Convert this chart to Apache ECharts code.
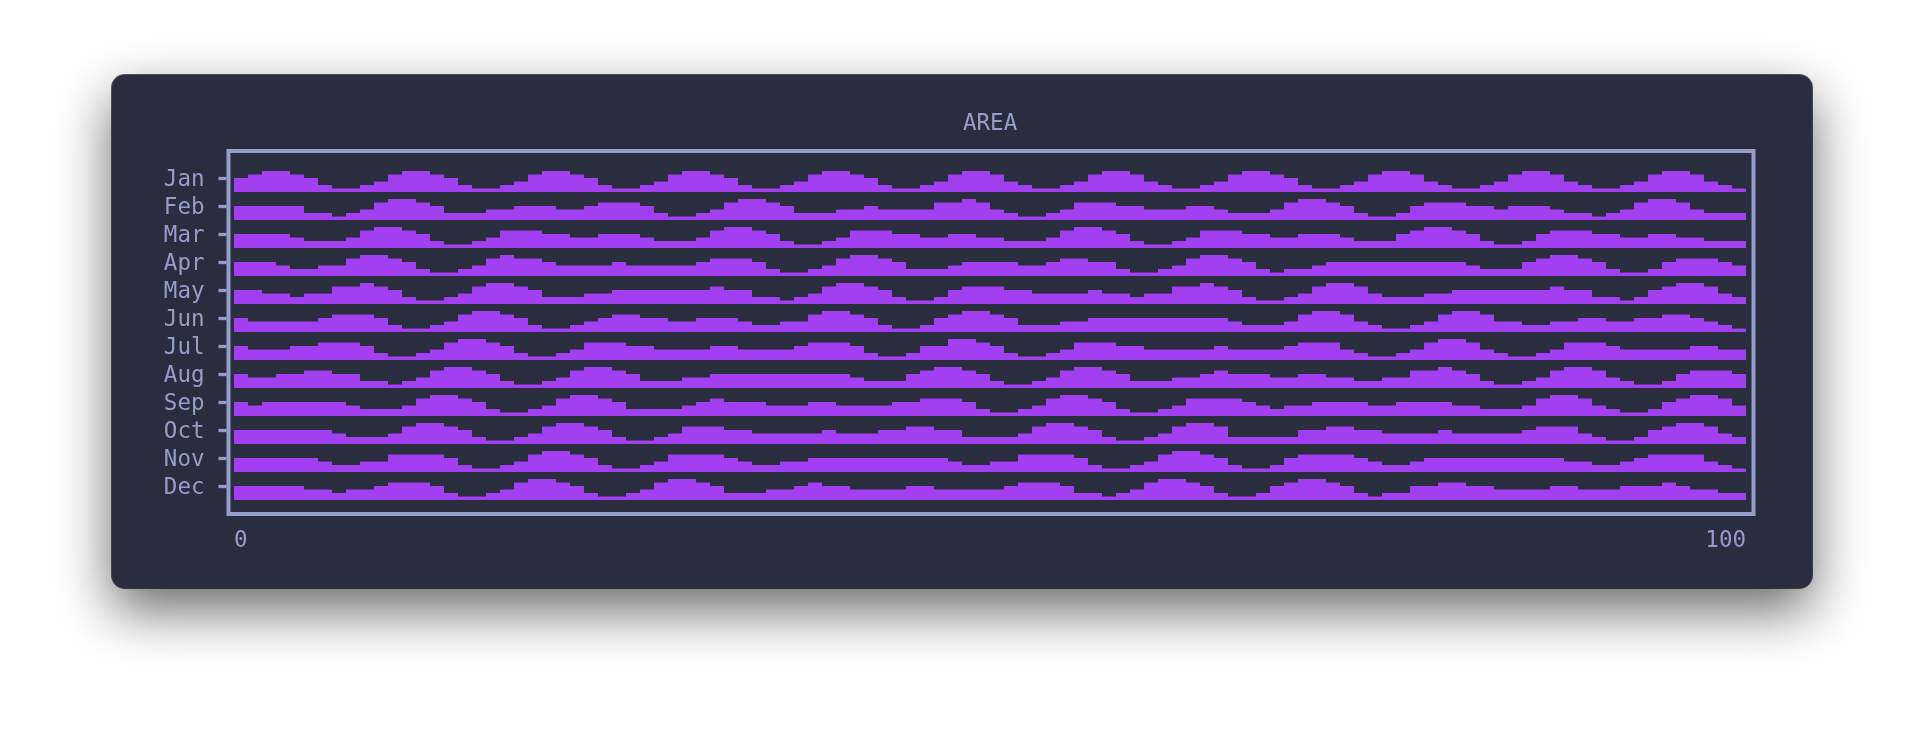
<!DOCTYPE html>
<html>
<head>
<meta charset="utf-8">
<script src="https://cdn.jsdelivr.net/npm/echarts@6/dist/echarts.min.js"></script>
<style>
  html, body { margin: 0; padding: 0; width: 1924px; height: 736px; background: #ffffff; overflow: hidden; }
  #win { position: absolute; left: 112px; top: 75px; width: 1700px; height: 513px; border-radius: 13px;
         background: #292d3e; box-shadow: 0 22px 55px rgba(0,0,0,0.6), 0 0 0 1px rgba(20,20,28,0.7); }
  #chart { position: absolute; left: 0; top: 0; width: 1924px; height: 736px; }
</style>
</head>
<body>
<div id="win"></div>
<div id="chart"></div>
<script>
// ---- data (levels per terminal column) ----
const title = 'AREA';
const months = ['Jan','Feb','Mar','Apr','May','Jun','Jul','Aug','Sep','Oct','Nov','Dec'];
const xTickLabels = [0, 100];
const jan = [4,5,6,6,5,4,2,1,1,2, 3,5,6,6,5,4,2,1,1,2, 3,5,6,6,5,4,2,1,1,2, 3,5,6,6,5,4,2,1,1,2, 3,5,6,6,5,4,2,1,1,2, 3,5,6,6,5,3,2,1,1,2, 3,5,6,6,5,3,2,1,1,2, 3,5,6,6,5,4,2,1,1,2, 3,5,6,6,5,3,2,1,1,2, 3,5,6,6,5,3,2,1,1,2, 3,5,6,6,5,3,2,1];
const feb = [4,4,4,4,4,2,2,1,2,3, 5,6,6,5,4,2,2,2,3,3, 4,4,4,3,3,4,5,5,5,4, 2,1,1,2,3,5,6,6,5,4, 2,2,2,3,3,4,3,3,3,3, 5,5,6,5,3,2,1,1,2,3, 5,5,5,4,4,3,3,3,4,4, 3,2,2,2,3,5,6,6,5,4, 2,1,1,2,4,5,5,5,4,4, 3,4,4,4,3,2,2,1,2,3, 5,6,6,5,3,2,2,2];
const mar = [4,4,4,4,3,2,2,2,3,5, 6,6,5,4,2,1,1,2,3,5, 5,5,4,4,3,3,4,4,4,3, 2,2,2,3,5,6,6,5,4,2, 1,1,2,3,5,5,5,4,4,3, 3,4,4,3,3,2,2,2,3,5, 6,6,5,4,2,1,1,2,3,5, 5,5,4,4,3,3,4,4,4,3, 2,2,2,4,5,6,6,5,4,2, 1,1,2,4,5,5,5,4,4,3, 3,4,4,3,3,2,2,2];
const apr = [4,4,4,3,2,2,3,3,5,6, 6,5,4,2,1,1,2,3,5,6, 5,5,4,3,3,3,3,4,3,3, 3,3,3,4,5,5,5,4,2,1, 1,2,3,5,6,6,5,4,2,2, 2,3,4,4,4,4,3,3,4,5, 5,4,4,2,1,1,2,3,5,6, 6,5,4,2,1,2,2,3,4,4, 4,4,4,4,4,4,4,4,3,2, 2,2,4,5,6,6,5,4,2,1, 1,2,4,5,5,5,4,3];
const may = [4,4,3,3,2,3,3,5,5,6, 5,4,2,1,1,2,3,5,6,6, 5,4,2,2,2,3,3,4,4,4, 4,4,4,4,5,4,4,2,2,1, 2,3,5,6,6,5,4,2,1,1, 2,4,5,5,5,4,4,3,3,3, 3,4,3,3,2,3,3,5,5,6, 5,4,2,1,1,2,3,5,6,6, 5,3,2,2,2,3,3,4,4,4, 4,4,4,4,5,4,4,2,2,1, 2,4,5,6,6,5,3,2];
const jun = [4,3,3,3,3,3,4,5,5,5, 4,2,1,1,2,3,5,6,6,5, 4,2,1,1,2,3,4,5,5,4, 4,3,3,4,4,4,3,2,2,3, 3,5,6,6,5,4,2,1,1,2, 4,5,6,6,5,4,2,2,2,3, 3,4,4,4,4,4,4,4,4,4, 4,3,2,2,2,3,5,6,6,5, 3,2,1,1,2,3,5,6,6,5, 3,3,2,2,3,3,4,4,3,3, 4,4,5,5,4,3,2,1];
const jul = [4,3,3,3,4,4,5,5,5,4, 2,1,1,2,3,5,6,6,5,4, 2,1,1,2,3,5,5,5,4,4, 3,3,3,3,4,4,3,3,3,3, 4,5,5,5,4,2,1,1,2,4, 4,6,6,5,4,2,1,1,2,3, 5,5,5,4,4,3,3,3,3,3, 4,3,3,3,3,4,5,5,5,3, 2,1,1,2,3,5,6,6,5,3, 2,1,1,2,3,5,5,5,4,3, 3,3,3,3,4,4,3,3];
const aug = [4,3,3,4,4,5,5,4,4,2, 2,1,2,3,5,6,6,5,4,2, 1,1,2,3,5,6,6,5,4,2, 2,2,3,3,4,4,4,4,4,4, 4,4,4,4,3,2,2,2,4,5, 6,6,5,4,2,1,1,2,3,5, 6,6,5,4,2,2,2,3,3,4, 5,4,4,4,3,3,4,4,3,3, 2,2,3,3,5,5,6,5,4,2, 1,1,2,3,5,6,6,5,3,2, 1,1,2,4,5,5,5,4];
const sep = [4,3,4,4,4,4,4,4,3,2, 2,2,3,5,6,6,5,4,2,1, 1,2,3,5,6,6,5,4,2,2, 2,2,3,4,5,4,4,4,3,3, 3,4,4,3,3,3,3,4,4,5, 5,5,4,2,1,1,2,3,5,6, 6,5,4,2,1,1,2,3,5,5, 5,5,4,3,2,3,3,4,4,4, 4,3,3,4,4,4,4,3,3,2, 2,2,3,5,6,6,5,3,2,1, 1,2,4,5,6,6,5,3];
const oct = [4,4,4,4,4,4,4,3,2,2, 2,3,5,6,6,5,4,2,1,1, 2,3,5,6,6,5,4,2,1,1, 2,3,5,5,5,4,4,3,3,3, 3,3,4,3,3,3,4,4,5,5, 4,4,2,2,2,2,3,5,6,6, 5,4,2,1,1,2,3,5,6,6, 5,2,2,2,2,2,4,4,5,5, 4,4,3,3,3,3,4,3,3,3, 3,3,4,5,5,5,3,2,1,1, 2,4,5,6,6,5,3,2];
const nov = [4,4,4,4,4,4,3,2,2,3, 3,5,5,5,5,4,2,1,1,2, 3,5,6,6,5,4,2,1,1,2, 3,5,5,5,5,4,3,2,2,3, 3,4,4,4,4,4,4,4,4,4, 4,3,2,2,3,3,5,5,5,5, 4,2,1,1,2,3,5,6,6,5, 4,2,1,1,2,4,5,5,5,5, 4,3,2,2,3,4,4,4,4,4, 4,4,4,4,4,3,3,2,2,3, 4,5,5,5,5,3,2,1];
const dec = [4,4,4,4,4,3,3,2,3,3, 4,5,5,5,4,2,1,1,2,3, 5,6,6,5,4,2,1,1,2,3, 5,6,6,5,4,2,2,2,3,3, 4,5,4,4,3,3,3,3,4,4, 3,3,3,3,3,4,5,5,5,4, 2,2,1,2,3,5,6,6,5,4, 2,1,1,2,4,5,6,6,5,4, 2,1,2,2,4,4,5,5,4,4, 3,3,3,3,4,4,3,3,3,4, 4,4,5,4,3,3,2,2];

const rows = [jan, feb, mar, apr, may, jun, jul, aug, sep, oct, nov, dec];

// ---- styling / layout ----
const FG = '#959dcb';
const PURPLE = '#a13ff1';
const FONT = "'DejaVu Sans Mono', 'Liberation Mono', monospace";
const FS = 22.5;
const bandLeft = 234, bandWidth = 1512, bandTop = 164, rowH = 28;
const frameOuterLeft = 226.5;
const cols = rows[0].map((_, i) => String(i));

const grid = [
  // frame
  { left: 228.5, top: 151, width: 1525, height: 363, show: true, borderColor: FG, borderWidth: 4, backgroundColor: 'transparent' },
  // x labels (0 / 100) under the bands
  { left: bandLeft, top: bandTop, width: bandWidth, height: rowH * months.length },
  // month labels (text nudged down so glyphs centre on the ticks)
  { left: frameOuterLeft, top: bandTop + 2.5, width: 10, height: rowH * months.length },
  // month ticks, just outside the frame
  { left: frameOuterLeft, top: bandTop, width: 10, height: rowH * months.length }
];
const xAxis = [
  { gridIndex: 0, type: 'value', show: false, min: 0, max: 1 },
  { gridIndex: 1, type: 'value', min: xTickLabels[0], max: xTickLabels[1], interval: xTickLabels[1] - xTickLabels[0],
    axisLine: { show: false }, axisTick: { show: false }, splitLine: { show: false },
    axisLabel: { color: FG, fontSize: FS, fontFamily: FONT, margin: 30, alignMinLabel: 'left', alignMaxLabel: 'right' } },
  { gridIndex: 2, type: 'value', show: false, min: 0, max: 1 },
  { gridIndex: 3, type: 'value', show: false, min: 0, max: 1 }
];
const yAxis = [
  { gridIndex: 0, type: 'value', show: false, min: 0, max: 1 },
  { gridIndex: 1, type: 'value', show: false, min: 0, max: 1 },
  { gridIndex: 2, type: 'category', data: months, inverse: true,
    axisLine: { show: false }, splitLine: { show: false }, axisTick: { show: false },
    axisLabel: { interval: 0, color: FG, fontSize: FS, fontFamily: FONT, margin: 22 } },
  { gridIndex: 3, type: 'category', data: months, inverse: true,
    axisLine: { show: false }, splitLine: { show: false }, axisLabel: { show: false },
    axisTick: { show: true, interval: 0, alignWithLabel: true, length: 8, lineStyle: { color: FG, width: 3.3 } } }
];
const series = [];
rows.forEach((vals, k) => {
  const gi = k + 4;
  grid.push({ left: bandLeft, top: bandTop + rowH * k, width: bandWidth, height: rowH });
  xAxis.push({ gridIndex: gi, type: 'category', data: cols, show: false, boundaryGap: true });
  yAxis.push({ gridIndex: gi, type: 'value', min: 0, max: 8, show: false });
  series.push({
    name: months[k], type: 'bar', xAxisIndex: gi, yAxisIndex: gi, data: vals,
    barCategoryGap: '0%', barGap: '0%', silent: true, animation: false,
    itemStyle: { color: PURPLE }
  });
});

const chart = echarts.init(document.getElementById('chart'), null, { renderer: 'canvas' });
chart.setOption({
  backgroundColor: 'transparent',
  animation: false,
  title: { text: title, left: 963, top: 112.5, padding: 0,
           textStyle: { color: FG, fontSize: FS, fontWeight: 'normal', fontFamily: FONT } },
  grid, xAxis, yAxis, series
});
</script>
</body>
</html>
